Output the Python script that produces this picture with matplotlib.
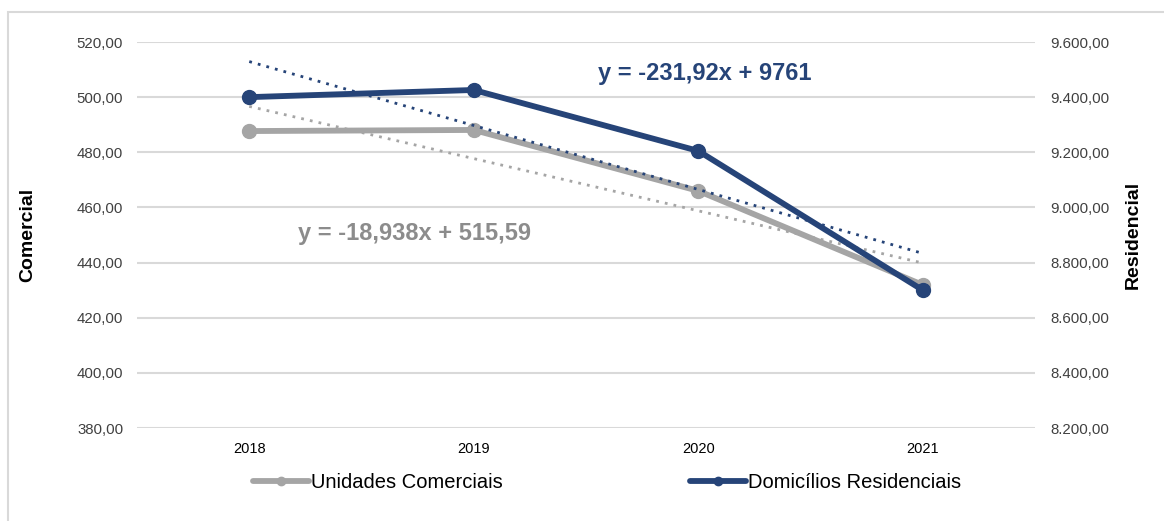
import matplotlib.pyplot as plt
import numpy as np
from matplotlib.patches import Rectangle
from matplotlib.ticker import FuncFormatter, MultipleLocator

plt.rcParams['font.family'] = ['Liberation Sans', 'DejaVu Sans']

# data
anos = ['2018', '2019', '2020', '2021']
comercial = [487.7, 488.1, 466.0, 431.9]
residencial = [9400.0, 9426.0, 9205.0, 8700.0]

# trendline coefficients as printed on the chart (x = 1..4)
tend_com = (-18.938, 515.59)
tend_res = (-231.92, 9761)

CINZA = '#A5A5A5'
AZUL = '#264478'
GRADE = '#D9D9D9'


def fmt_br(v, pos=None):
    s = f'{v:,.2f}'
    return s.replace(',', 'X').replace('.', ',').replace('X', '.')


fig = plt.figure(figsize=(11.64, 5.21), dpi=100)
fig.patches.append(Rectangle((8 / 1164, -0.1), 1.2, 1 - 12 / 521 + 0.1,
                             transform=fig.transFigure, fill=False,
                             edgecolor=GRADE, lw=1.5))

ax = fig.add_axes([137 / 1164, 1 - 428 / 521, (1035 - 137) / 1164, (428 - 42) / 521])
ax2 = ax.twinx()

x = np.arange(1, len(anos) + 1)
xt = np.array([x[0], x[-1]])

# linhas de tendencia
ax.plot(xt, tend_com[0] * xt + tend_com[1], color=CINZA, lw=2, ls=(0, (1, 2.2)), zorder=3)
ax2.plot(xt, tend_res[0] * xt + tend_res[1], color=AZUL, lw=2, ls=(0, (1, 2.2)), zorder=3)

l1, = ax.plot(x, comercial, color=CINZA, lw=4.2, marker='o', ms=10,
              solid_capstyle='round', zorder=4, label='Unidades Comerciais')
l2, = ax2.plot(x, residencial, color=AZUL, lw=4.2, marker='o', ms=10,
               solid_capstyle='round', zorder=4, label='Domicílios Residenciais')

ax.set_xlim(0.5, 4.5)
ax.set_xticks(x)
ax.set_xticklabels(anos)
ax.set_ylim(380, 520)
ax.yaxis.set_major_locator(MultipleLocator(20))
ax.yaxis.set_major_formatter(FuncFormatter(fmt_br))
ax2.set_ylim(8200, 9600)
ax2.yaxis.set_major_locator(MultipleLocator(200))
ax2.yaxis.set_major_formatter(FuncFormatter(fmt_br))

for a in (ax, ax2):
    for sp in a.spines.values():
        sp.set_visible(False)
    a.tick_params(length=0, labelsize=10.8, colors='#404040')
ax.tick_params(axis='x', pad=10, labelsize=10.5, colors='#000000')
ax.tick_params(axis='y', pad=10)
ax2.tick_params(axis='y', pad=11)

ax.grid(axis='y', color=GRADE, lw=1.5)
ax.set_axisbelow(True)

ax.set_ylabel('Comercial', fontsize=14, fontweight='bold')
ax2.set_ylabel('Residencial', fontsize=14, fontweight='bold')
ax.yaxis.set_label_coords(-0.1125, 0.5)
ax2.yaxis.set_label_coords(1.100, 0.5)

ax2.text(2.553, 9485, 'y = -231,92x + 9761', fontsize=17, fontweight='bold',
         color=AZUL, ha='left', va='center')
ax.text(1.217, 450.7, 'y = -18,938x + 515,59', fontsize=17, fontweight='bold',
        color='#8C8C8C', ha='left', va='center')

fig.legend(handles=[l1, l2], loc='center', bbox_to_anchor=(0.5215, 1 - 483 / 521),
           ncol=2, frameon=False, fontsize=14.5, columnspacing=9.3,
           handlelength=2.8, handletextpad=0.1, markerscale=0.6)

fig.savefig('out.png', dpi=100, facecolor='white')
